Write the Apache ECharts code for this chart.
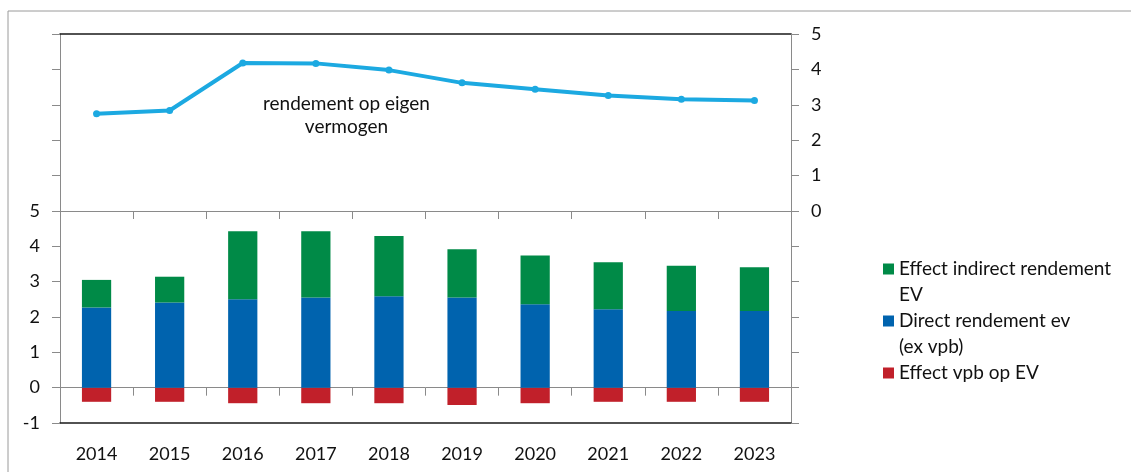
<!DOCTYPE html>
<html>
<head>
<meta charset="utf-8">
<script src="https://cdn.jsdelivr.net/npm/echarts@6/dist/echarts.min.js"></script>
<style>
  html, body { margin: 0; padding: 0; background: #fff; }
  #chart { width: 1131px; height: 472px; }
</style>
</head>
<body>
<div id="chart"></div>
<script>
// data
const years = ['2014', '2015', '2016', '2017', '2018', '2019', '2020', '2021', '2022', '2023'];
const rendementEV = [2.75, 2.84, 4.18, 4.17, 3.98, 3.62, 3.44, 3.26, 3.16, 3.12];
const indirect = [0.78, 0.73, 1.93, 1.88, 1.70, 1.37, 1.38, 1.33, 1.28, 1.24];
const direct = [2.27, 2.41, 2.50, 2.55, 2.59, 2.55, 2.36, 2.22, 2.17, 2.17];
const vpb = [-0.40, -0.40, -0.44, -0.44, -0.44, -0.49, -0.44, -0.40, -0.40, -0.40];

// legend teksten zoals Excel ze afbreekt
const legendText = {
    'Effect indirect rendement EV': '\nEffect indirect rendement\nEV',
    'Direct rendement ev (ex vpb)': '\nDirect rendement ev\n(ex vpb)',
    'Effect vpb op EV': '\nEffect vpb op EV\n'
};

const font = 'Lato';
const grey = '#8a8a8a';
const txt = '#111';

const chart = echarts.init(document.getElementById('chart'));

const tickOut = { show: true, inside: false, length: 8, lineStyle: { color: grey } };

const option = {
    animation: false,
    backgroundColor: '#fff',
    textStyle: { fontFamily: font },
    graphic: [
        {
            // rand van het grafiekgebied
            type: 'rect',
            shape: { x: 8, y: 11, width: 1300, height: 600 },
            style: { fill: 'none', stroke: '#9a9a9a', lineWidth: 1 },
            silent: true
        },
        {
            type: 'text',
            left: 263,
            top: 92,
            style: {
                text: 'rendement op eigen\nvermogen',
                textAlign: 'center',
                fill: txt,
                font: '19px Lato',
                lineHeight: 23
            }
        }
    ],
    legend: {
        orient: 'vertical',
        left: 883,
        top: 230,
        padding: 0,
        itemWidth: 11,
        itemHeight: 11,
        itemGap: -26,
        icon: 'rect',
        data: ['Effect indirect rendement EV', 'Direct rendement ev (ex vpb)', 'Effect vpb op EV'],
        formatter: function (name) { return legendText[name]; },
        textStyle: { fontFamily: font, fontSize: 19, color: txt, lineHeight: 26 }
    },
    grid: [
        { left: 60, right: 340, top: 34, height: 177 },
        { left: 60, right: 340, top: 211, height: 212 }
    ],
    xAxis: [
        {
            type: 'category', gridIndex: 0, data: years, position: 'bottom',
            axisLine: { onZero: false, lineStyle: { color: grey } },
            axisTick: tickOut,
            axisLabel: { show: false }
        },
        {
            type: 'category', gridIndex: 0, data: years, position: 'top',
            axisLine: { onZero: false, lineStyle: { color: '#1a1a1a', width: 1.5 } },
            axisTick: { show: false },
            axisLabel: { show: false }
        },
        {
            type: 'category', gridIndex: 1, data: years, position: 'bottom',
            axisLine: { onZero: true, lineStyle: { color: grey } },
            axisTick: tickOut,
            axisLabel: { show: false }
        },
        {
            type: 'category', gridIndex: 1, data: years, position: 'bottom',
            axisLine: { onZero: false, lineStyle: { color: '#1a1a1a', width: 1.5 } },
            axisTick: { show: false },
            axisLabel: { show: true, margin: 22, fontFamily: font, fontSize: 18, color: txt }
        }
    ],
    yAxis: [
        {
            type: 'value', gridIndex: 0, position: 'right', min: 0, max: 5, interval: 1,
            axisLine: { show: true, lineStyle: { color: grey } },
            axisTick: tickOut,
            splitLine: { show: false },
            axisLabel: { margin: 20, fontFamily: font, fontSize: 18, color: txt }
        },
        {
            type: 'value', gridIndex: 0, position: 'left', min: 0, max: 5, interval: 1,
            axisLine: { show: true, lineStyle: { color: grey } },
            axisTick: tickOut,
            splitLine: { show: false },
            axisLabel: { show: false }
        },
        {
            type: 'value', gridIndex: 1, position: 'left', min: -1, max: 5, interval: 1,
            axisLine: { show: true, lineStyle: { color: grey } },
            axisTick: tickOut,
            splitLine: { show: false },
            axisLabel: { margin: 20, fontFamily: font, fontSize: 18, color: txt }
        },
        {
            type: 'value', gridIndex: 1, position: 'right', min: -1, max: 5, interval: 1,
            axisLine: { show: true, lineStyle: { color: grey } },
            axisTick: tickOut,
            splitLine: { show: false },
            axisLabel: { show: false }
        }
    ],
    series: [
        {
            name: 'rendement op eigen vermogen',
            type: 'line',
            xAxisIndex: 0,
            yAxisIndex: 0,
            data: rendementEV,
            symbol: 'circle',
            symbolSize: 7,
            lineStyle: { color: '#1ca9e1', width: 4 },
            itemStyle: { color: '#1ca9e1' }
        },
        {
            name: 'Effect vpb op EV',
            type: 'bar',
            xAxisIndex: 3,
            yAxisIndex: 2,
            stack: 'ev',
            barWidth: '40%',
            data: vpb,
            itemStyle: { color: '#c1202a' }
        },
        {
            name: 'Direct rendement ev (ex vpb)',
            type: 'bar',
            xAxisIndex: 3,
            yAxisIndex: 2,
            stack: 'ev',
            barWidth: '40%',
            data: direct,
            itemStyle: { color: '#0063ae' }
        },
        {
            name: 'Effect indirect rendement EV',
            type: 'bar',
            xAxisIndex: 3,
            yAxisIndex: 2,
            stack: 'ev',
            barWidth: '40%',
            data: indirect,
            itemStyle: { color: '#008a47' }
        }
    ]
};

chart.setOption(option);
</script>
</body>
</html>
